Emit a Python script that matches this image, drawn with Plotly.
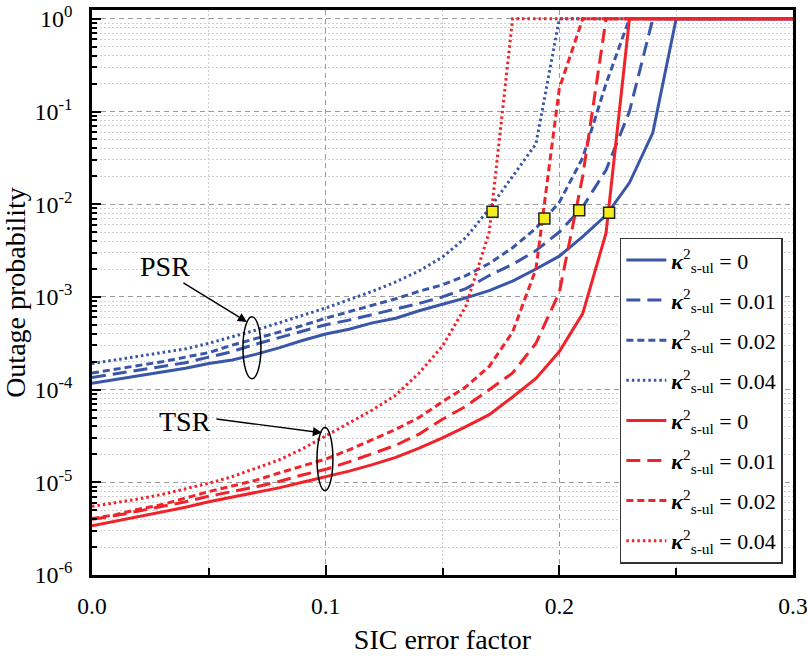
import plotly.graph_objects as go

# SIC error factor grid
sic_error = [0.00, 0.01, 0.02, 0.03, 0.04, 0.05, 0.06, 0.07, 0.08, 0.09,
             0.10, 0.11, 0.12, 0.13, 0.14, 0.15, 0.16, 0.17, 0.18, 0.19,
             0.20, 0.21, 0.22, 0.23, 0.24, 0.25, 0.26, 0.27, 0.28, 0.29, 0.30]

# PSR outage probability for kappa^2 = 0, 0.01, 0.02, 0.04
psr_k0 = [1.17e-4, 1.29e-4, 1.41e-4, 1.55e-4, 1.70e-4, 1.91e-4, 2.09e-4, 2.40e-4, 2.82e-4, 3.39e-4,
          3.98e-4, 4.47e-4, 5.25e-4, 5.89e-4, 7.08e-4, 8.32e-4, 9.77e-4, 1.17e-3, 1.48e-3, 2.00e-3,
          2.75e-3, 4.47e-3, 7.59e-3, 1.70e-2, 5.89e-2, 1, 1, 1, 1, 1, 1]
psr_k001 = [1.35e-4, 1.48e-4, 1.62e-4, 1.78e-4, 1.95e-4, 2.24e-4, 2.57e-4, 3.09e-4, 3.63e-4, 4.27e-4,
            5.01e-4, 5.62e-4, 6.46e-4, 7.41e-4, 8.51e-4, 1.00e-3, 1.23e-3, 1.70e-3, 2.24e-3, 3.16e-3,
            5.01e-3, 9.33e-3, 2.34e-2, 1.00e-1, 1, 1, 1, 1, 1, 1, 1]
psr_k002 = [1.51e-4, 1.66e-4, 1.82e-4, 2.00e-4, 2.24e-4, 2.51e-4, 3.02e-4, 3.55e-4, 4.17e-4, 4.90e-4,
            5.89e-4, 6.92e-4, 8.13e-4, 9.55e-4, 1.15e-3, 1.35e-3, 1.70e-3, 2.29e-3, 3.39e-3, 5.50e-3,
            1.05e-2, 3.16e-2, 2.00e-1, 1, 1, 1, 1, 1, 1, 1, 1]
psr_k004 = [1.91e-4, 2.09e-4, 2.29e-4, 2.51e-4, 2.75e-4, 3.16e-4, 3.72e-4, 4.37e-4, 5.25e-4, 6.31e-4,
            7.59e-4, 9.33e-4, 1.15e-3, 1.45e-3, 1.91e-3, 2.69e-3, 4.37e-3, 8.91e-3, 2.00e-2, 4.47e-2,
            1, 1, 1, 1, 1, 1, 1, 1, 1, 1, 1]

# TSR outage probability for kappa^2 = 0, 0.01, 0.02, 0.04
tsr_k0 = [3.39e-6, 3.80e-6, 4.27e-6, 4.79e-6, 5.37e-6, 6.17e-6, 6.92e-6, 7.76e-6, 8.71e-6, 1.00e-5,
          1.15e-5, 1.32e-5, 1.55e-5, 1.86e-5, 2.34e-5, 3.02e-5, 3.98e-5, 5.37e-5, 8.32e-5, 1.32e-4,
          2.57e-4, 6.61e-4, 4.90e-3, 1, 1, 1, 1, 1, 1, 1, 1]
tsr_k001 = [3.98e-6, 4.37e-6, 4.90e-6, 5.50e-6, 6.17e-6, 7.08e-6, 7.94e-6, 8.91e-6, 1.02e-5, 1.20e-5,
            1.38e-5, 1.66e-5, 2.04e-5, 2.51e-5, 3.31e-5, 4.79e-5, 6.61e-5, 1.00e-4, 1.51e-4, 3.16e-4,
            1.12e-3, 2.00e-2, 1, 1, 1, 1, 1, 1, 1, 1, 1]
tsr_k002 = [4.07e-6, 4.47e-6, 5.13e-6, 5.75e-6, 6.76e-6, 7.94e-6, 9.12e-6, 1.05e-5, 1.26e-5, 1.51e-5,
            1.78e-5, 2.24e-5, 2.88e-5, 3.72e-5, 5.01e-5, 7.41e-5, 1.07e-4, 1.78e-4, 4.17e-4, 2.00e-3,
            1.78e-1, 1, 1, 1, 1, 1, 1, 1, 1, 1, 1]
tsr_k004 = [5.50e-6, 6.03e-6, 6.61e-6, 7.41e-6, 8.51e-6, 9.77e-6, 1.15e-5, 1.41e-5, 1.74e-5, 2.29e-5,
            3.16e-5, 4.37e-5, 6.03e-5, 8.71e-5, 1.51e-4, 2.95e-4, 7.94e-4, 5.01e-3, 1, 1,
            1, 1, 1, 1, 1, 1, 1, 1, 1, 1, 1]

# PSR/TSR crossing points for each kappa^2
cross_x = [0.1714, 0.1936, 0.2085, 0.2213]
cross_y = [8.3e-3, 7.0e-3, 8.6e-3, 8.1e-3]

kappa_labels = ["0", "0.01", "0.02", "0.04"]
y_tick_vals = [1e-6, 1e-5, 1e-4, 1e-3, 1e-2, 1e-1, 1]
y_tick_text = ["10<sup>-6</sup>", "10<sup>-5</sup>", "10<sup>-4</sup>", "10<sup>-3</sup>",
               "10<sup>-2</sup>", "10<sup>-1</sup>", "10<sup>0</sup>"]
x_tick_vals = [0.0, 0.1, 0.2, 0.3]
x_tick_text = ["0.0", "0.1", "0.2", "0.3"]

BLUE = "#3a56a8"
RED = "#f0222a"
FONT = "Liberation Serif"
dashes = ["solid", "14px,7px", "7px,4px", "2.5px,3px"]

fig = go.Figure()

idx = 0
for color, series in [(BLUE, [psr_k0, psr_k001, psr_k002, psr_k004]),
                      (RED, [tsr_k0, tsr_k001, tsr_k002, tsr_k004])]:
    for vals, dash, lab in zip(series, dashes, kappa_labels):
        fig.add_trace(go.Scatter(
            x=sic_error, y=vals, mode="lines",
            line=dict(color=color, width=3, dash=dash),
            name=f"<b><i>κ</i></b><sup>2</sup><sub>s-ul</sub> = {lab}",
            legendgroup=f"g{idx}",
        ))
        idx += 1

fig.add_trace(go.Scatter(
    x=cross_x, y=cross_y, mode="markers", showlegend=False,
    marker=dict(symbol="square", size=11, color="#f4ec1c",
                line=dict(color="#222222", width=1.5)),
))

# minor log ticks 2..9 per decade
minor_y = [k * 10.0 ** e for e in range(-6, 0) for k in range(2, 10)]

fig.update_layout(
    width=807, height=657,
    margin=dict(l=92, r=14, t=10, b=82),
    paper_bgcolor="white", plot_bgcolor="white",
    font=dict(family=FONT, color="black", size=22),
    xaxis=dict(
        range=[0, 0.3], tickvals=x_tick_vals, ticktext=x_tick_text,
        ticks="inside", ticklen=10, tickwidth=2, tickcolor="black",
        showline=True, linewidth=2.5, linecolor="black", mirror=True,
        showgrid=True, gridcolor="#9a9a9a", griddash="5px,4px", gridwidth=1,
        minor=dict(tickvals=[0.05, 0.15, 0.25], ticks="inside", ticklen=7, tickwidth=2,
                   tickcolor="black", showgrid=True, gridcolor="#cfcfcf", griddash="2px,2px"),
        tickfont=dict(size=23.5), ticklabelstandoff=8, ticklabeloverflow="allow",
        title=dict(text="SIC error factor", font=dict(size=28), standoff=12),
        zeroline=False, automargin=False,
    ),
    yaxis=dict(
        type="log", range=[-6, 0.095], tickvals=y_tick_vals, ticktext=y_tick_text,
        ticks="inside", ticklen=9, tickwidth=2, tickcolor="black",
        showline=True, linewidth=2.5, linecolor="black", mirror=True,
        showgrid=True, gridcolor="#9a9a9a", griddash="5px,4px", gridwidth=1,
        minor=dict(tickvals=minor_y, ticks="inside", ticklen=5, tickwidth=2,
                   tickcolor="black", showgrid=True, gridcolor="#cfcfcf", griddash="2px,2px"),
        tickfont=dict(size=24), ticklabelstandoff=12, ticklabeloverflow="allow",
        title=dict(text="Outage probability", font=dict(size=28), standoff=12),
        zeroline=False, automargin=False,
    ),
    legend=dict(
        x=0.753, y=0.597, xanchor="left", yanchor="top",
        bgcolor="white", bordercolor="#333333", borderwidth=1.5,
        font=dict(family=FONT, size=22), tracegroupgap=8.5, itemwidth=40,
    ),
    showlegend=True,
)

# ellipses grouping the curves
fig.add_shape(type="circle", xref="x", yref="y", x0=0.0646, x1=0.0723, y0=1.31e-4, y1=6.1e-4,
              line=dict(color="black", width=1.5))
fig.add_shape(type="circle", xref="x", yref="y", x0=0.0963, x1=0.1031, y0=8.13e-6, y1=3.89e-5,
              line=dict(color="black", width=1.5))

# labels with arrows
fig.add_annotation(x=0.0314, y=-2.67, xref="x", yref="y", text="PSR", showarrow=False,
                   font=dict(size=28))
fig.add_annotation(x=0.0398, y=-4.34, xref="x", yref="y", text="TSR", showarrow=False,
                   font=dict(size=28))
fig.add_annotation(x=0.0663, y=-3.27, xref="x", yref="y", text="", showarrow=True,
                   ax=-65, ay=-40, arrowhead=2, arrowsize=1.3, arrowwidth=1.4,
                   arrowcolor="black", standoff=0)
fig.add_annotation(x=0.0984, y=-4.466, xref="x", yref="y", text="", showarrow=True,
                   ax=-107, ay=-14, arrowhead=2, arrowsize=1.3, arrowwidth=1.4,
                   arrowcolor="black", standoff=0)

fig.write_html("out.html")
